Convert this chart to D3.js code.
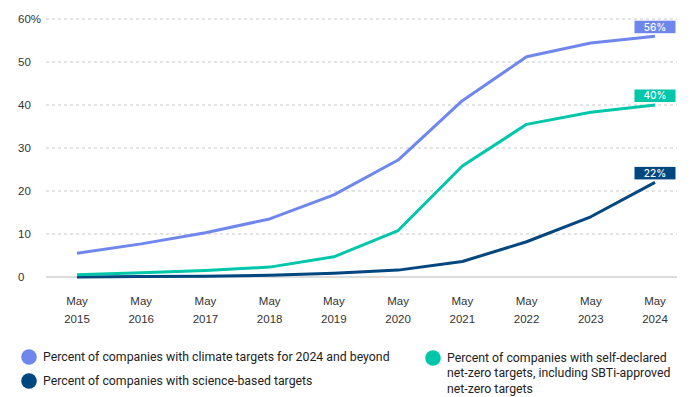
<!DOCTYPE html>
<html>
<head>
<meta charset="utf-8">
<script src="https://cdn.jsdelivr.net/npm/d3@7"></script>
<style>
  html, body { margin: 0; padding: 0; background: #fff; }
  svg { display: block; }
</style>
</head>
<body>
<svg id="chart" width="694" height="397"></svg>
<script>
// Chart data
const years = ["2015", "2016", "2017", "2018", "2019", "2020", "2021", "2022", "2023", "2024"];
const climateTargets = [5.5, 7.7, 10.3, 13.5, 19.1, 27.2, 41.0, 51.2, 54.4, 56];
const netZeroTargets = [0.5, 1.0, 1.5, 2.3, 4.7, 10.8, 25.8, 35.5, 38.3, 40];
const scienceTargets = [0.0, 0.1, 0.2, 0.4, 0.9, 1.6, 3.6, 8.2, 14.0, 22];
const yTicks = [0, 10, 20, 30, 40, 50, 60];

const seriesNames = [
  "Percent of companies with climate targets for 2024 and beyond",
  "Percent of companies with science-based targets",
  "Percent of companies with self-declared net-zero targets, including SBTi-approved net-zero targets"
];
const colors = { climate: "#6f87ec", netzero: "#00c6aa", science: "#00467f" };

const svg = d3.select("#chart");

const x = d3.scalePoint().domain(years).range([77, 655]);
const y = d3.scaleLinear().domain([0, 60]).range([277, 19]);

const gridLeft = 46, gridRight = 677;

// Horizontal grid lines (dashed) and y tick labels
const yAxis = svg.append("g");
yAxis.selectAll("line.grid")
  .data(yTicks.filter(d => d > 0))
  .join("line")
  .attr("x1", gridLeft).attr("x2", gridRight)
  .attr("y1", d => y(d)).attr("y2", d => y(d))
  .attr("stroke", "#c9c9c9")
  .attr("stroke-width", 1.2)
  .attr("stroke-dasharray", "3,3");

// Solid baseline at zero
yAxis.append("line")
  .attr("x1", gridLeft).attr("x2", gridRight)
  .attr("y1", y(0)).attr("y2", y(0))
  .attr("stroke", "#d0d0d0")
  .attr("stroke-width", 1.5);

yAxis.selectAll("text")
  .data(yTicks)
  .join("text")
  .attr("x", 18)
  .attr("y", d => y(d))
  .attr("dy", "0.36em")
  .attr("font-family", "Liberation Sans, Arial, sans-serif")
  .attr("font-size", 11.5)
  .attr("fill", "#333")
  .text(d => d === 60 ? d + "%" : d);

// X axis labels (two lines)
const xAxis = svg.append("g");
const xl = xAxis.selectAll("text")
  .data(years)
  .join("text")
  .attr("x", d => x(d))
  .attr("text-anchor", "middle")
  .attr("font-family", "Liberation Sans, Arial, sans-serif")
  .attr("font-size", 11.5)
  .attr("fill", "#333");
xl.append("tspan").attr("x", d => x(d)).attr("y", 305).text("May");
xl.append("tspan").attr("x", d => x(d)).attr("y", 323).text(d => d);

// Lines
const line = d3.line()
  .x((d, i) => x(years[i]))
  .y(d => y(d));

const series = [
  { key: "science", values: scienceTargets },
  { key: "netzero", values: netZeroTargets },
  { key: "climate", values: climateTargets }
];

svg.append("g").selectAll("path")
  .data(series)
  .join("path")
  .attr("d", d => line(d.values))
  .attr("fill", "none")
  .attr("stroke", d => colors[d.key])
  .attr("stroke-width", 3)
  .attr("stroke-linejoin", "round");

// End-value labels in colored boxes
const boxW = 41, boxH = 12.5;
const labels = svg.append("g").selectAll("g")
  .data(series)
  .join("g");
labels.append("rect")
  .attr("x", d => x(years[years.length - 1]) - boxW / 2)
  .attr("y", d => y(d.values[d.values.length - 1]) - 3 - boxH)
  .attr("width", boxW)
  .attr("height", boxH)
  .attr("fill", d => colors[d.key]);
labels.append("text")
  .attr("x", d => x(years[years.length - 1]))
  .attr("y", d => y(d.values[d.values.length - 1]) - 3 - boxH / 2)
  .attr("dy", "0.36em")
  .attr("text-anchor", "middle")
  .attr("font-family", "Inter, sans-serif")
  .attr("font-size", 10)
  .attr("font-weight", 500)
  .attr("fill", "#fff")
  .text(d => Math.round(d.values[d.values.length - 1]) + "%");

// Legend
const legendItems = [
  { color: colors.climate, lines: [seriesNames[0]], cx: 29, cy: 357 },
  { color: colors.science, lines: [seriesNames[1]], cx: 29, cy: 381 },
  { color: colors.netzero, lines: ["Percent of companies with self-declared", "net-zero targets, including SBTi-approved", "net-zero targets"], cx: 433, cy: 358 }
];
const legend = svg.append("g").selectAll("g")
  .data(legendItems)
  .join("g");
legend.append("circle")
  .attr("cx", d => d.cx)
  .attr("cy", d => d.cy)
  .attr("r", 7.8)
  .attr("fill", d => d.color);
legend.append("text")
  .attr("font-family", "Roboto, sans-serif")
  .attr("font-size", 12.3)
  .attr("fill", "#222")
  .each(function(d) {
    const t = d3.select(this);
    d.lines.forEach((ln, i) => {
      t.append("tspan")
        .attr("x", d.cx + 14)
        .attr("y", d.cy + 3.6 + i * 15.8)
        .text(ln);
    });
  });
</script>
</body>
</html>
